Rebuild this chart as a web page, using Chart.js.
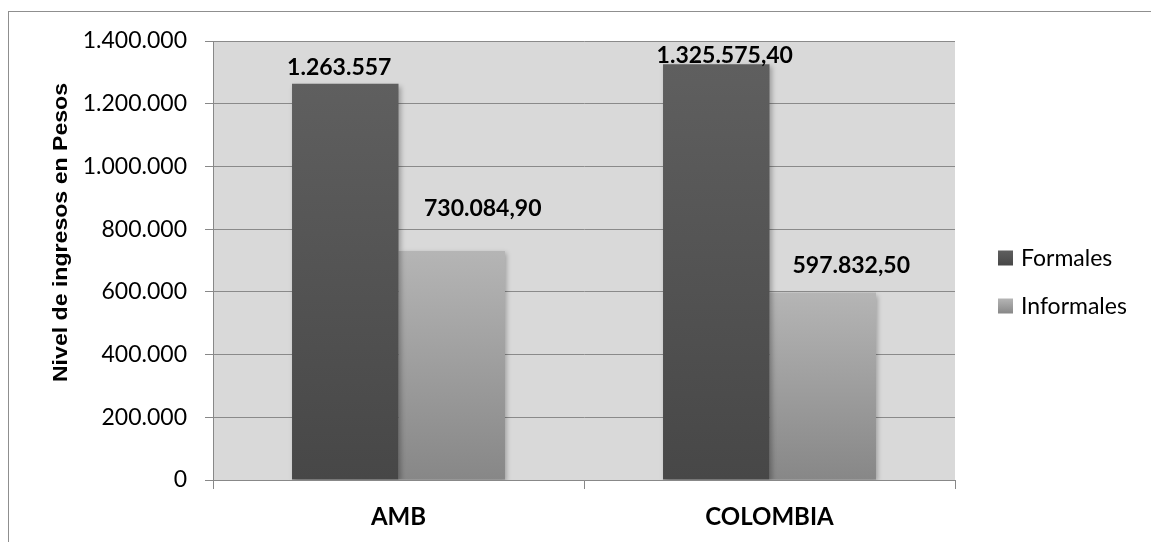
<!DOCTYPE html>
<html><head><meta charset="utf-8">
<script src="https://cdn.jsdelivr.net/npm/chart.js@4/dist/chart.umd.min.js"></script>
<style>html,body{margin:0;padding:0;background:#fff;} canvas{display:block;}</style>
</head><body>
<canvas id="c" width="1151" height="542"></canvas>
<script>
const categories = ['AMB', 'COLOMBIA'];
const seriesNames = ['Formales', 'Informales'];
const formales = [1263557, 1325575.40];
const informales = [730084.90, 597832.50];
const formalesLabels = ['1.263.557', '1.325.575,40'];
const informalesLabels = ['730.084,90', '597.832,50'];
const yTickLabels = ['0','200.000','400.000','600.000','800.000','1.000.000','1.200.000','1.400.000'];
const yTitle = 'Nivel de ingresos en Pesos';

const FONT = 'Lato, "Open Sans", sans-serif';
const formalesGrad = ['#5f5f5f', '#474747'];
const informalesGrad = ['#b5b5b5', '#878787'];

function barGradient(stops) {
  return (c) => {
    const chart = c.chart;
    if (!chart.chartArea || c.type !== 'data' || !chart.scales.y) return stops[1];
    const y = chart.scales.y;
    const y0 = y.getPixelForValue(c.raw), y1 = y.getPixelForValue(0);
    const g = chart.ctx.createLinearGradient(0, y0, 0, y1);
    g.addColorStop(0, stops[0]); g.addColorStop(1, stops[1]);
    return g;
  };
}

const decor = {
  id: 'decor',
  beforeDraw(chart) {
    const {ctx, chartArea: a} = chart;
    ctx.save();
    ctx.fillStyle = '#ffffff';
    ctx.fillRect(0, 0, chart.width, chart.height);
    ctx.strokeStyle = '#8f8f8f';
    ctx.lineWidth = 1;
    ctx.strokeRect(8.5, 11.5, 3000, 3000);
    ctx.fillStyle = '#d9d9d9';
    ctx.fillRect(a.left, a.top, a.right - a.left, a.bottom - a.top);
    ctx.restore();
  },
  beforeDatasetsDraw(chart) {
    const ctx = chart.ctx;
    ctx.save();
    ctx.shadowColor = 'rgba(0,0,0,0.28)';
    ctx.shadowBlur = 5;
    ctx.shadowOffsetX = 2;
    ctx.shadowOffsetY = 2;
  },
  afterDatasetsDraw(chart, args, opts) {
    const ctx = chart.ctx;
    ctx.restore();
    ctx.save();
    ctx.font = 'bold 23px ' + FONT;
    ctx.fillStyle = '#000';
    ctx.textAlign = 'center';
    ctx.textBaseline = 'middle';
    chart.data.datasets.forEach((ds, di) => {
      chart.getDatasetMeta(di).data.forEach((bar, i) => {
        const off = opts.offsets[di][i];
        ctx.fillText(ds.valueLabels[i], bar.x + off[0], bar.y - off[1]);
      });
    });
    ctx.restore();
  },
  afterDraw(chart, args, opts) {
    const ctx = chart.ctx;
    ctx.save();
    ctx.translate(61, 232.5);
    ctx.rotate(-Math.PI / 2);
    ctx.scale(1.1, 1);
    ctx.font = 'bold 21px "Liberation Sans", Arial, sans-serif';
    ctx.fillStyle = '#000';
    ctx.textAlign = 'center';
    ctx.textBaseline = 'middle';
    ctx.fillText(yTitle, 0, 0);
    ctx.restore();
    ctx.save();
    const grads = [formalesGrad, informalesGrad];
    const ys = [258, 306];
    seriesNames.forEach((name, i) => {
      const s = 15, x = 998, yc = ys[i];
      const g = ctx.createLinearGradient(0, yc - s / 2, 0, yc + s / 2);
      g.addColorStop(0, grads[i][0]); g.addColorStop(1, grads[i][1]);
      ctx.fillStyle = g;
      ctx.fillRect(x, yc - s / 2, s, s);
      ctx.fillStyle = '#000';
      ctx.font = '23px ' + FONT;
      ctx.textAlign = 'left';
      ctx.textBaseline = 'middle';
      ctx.fillText(name, 1021, yc + 1);
    });
    ctx.restore();
  }
};

new Chart(document.getElementById('c'), {
  type: 'bar',
  data: {
    labels: categories,
    datasets: [
      { label: seriesNames[0], data: formales, valueLabels: formalesLabels,
        backgroundColor: barGradient(formalesGrad), borderWidth: 0,
        categoryPercentage: 0.574, barPercentage: 1.0 },
      { label: seriesNames[1], data: informales, valueLabels: informalesLabels,
        backgroundColor: barGradient(informalesGrad), borderWidth: 0,
        categoryPercentage: 0.574, barPercentage: 1.0 }
    ]
  },
  options: {
    responsive: false,
    animation: false,
    layout: { padding: { left: 0, right: 196, top: 41, bottom: 0 } },
    plugins: {
      legend: { display: false },
      tooltip: { enabled: false },
      decor: { offsets: [[[-6, 16], [8.5, 9]], [[31, 42], [28.5, 27]]] }
    },
    scales: {
      x: {
        grid: { display: true, drawOnChartArea: false, drawTicks: true, tickLength: 9, tickColor: '#888888', offset: true },
        border: { display: true, color: '#888888', width: 1 },
        ticks: { color: '#000', padding: 14, font: { family: FONT, size: 24, weight: 'bold' } },
        afterFit(s) { s.height = 62; }
      },
      y: {
        min: 0, max: 1400000,
        ticks: { stepSize: 200000, color: '#000', padding: 18,
          font: { family: FONT, size: 23 },
          callback: (v, i) => yTickLabels[i] },
        grid: { color: '#8a8a8a', lineWidth: 1, drawTicks: true, tickLength: 8, tickColor: '#888888' },
        border: { display: true, color: '#888888', width: 1 },
        afterFit(s) { s.width = 213; }
      }
    }
  },
  plugins: [decor]
});
</script>
</body></html>
